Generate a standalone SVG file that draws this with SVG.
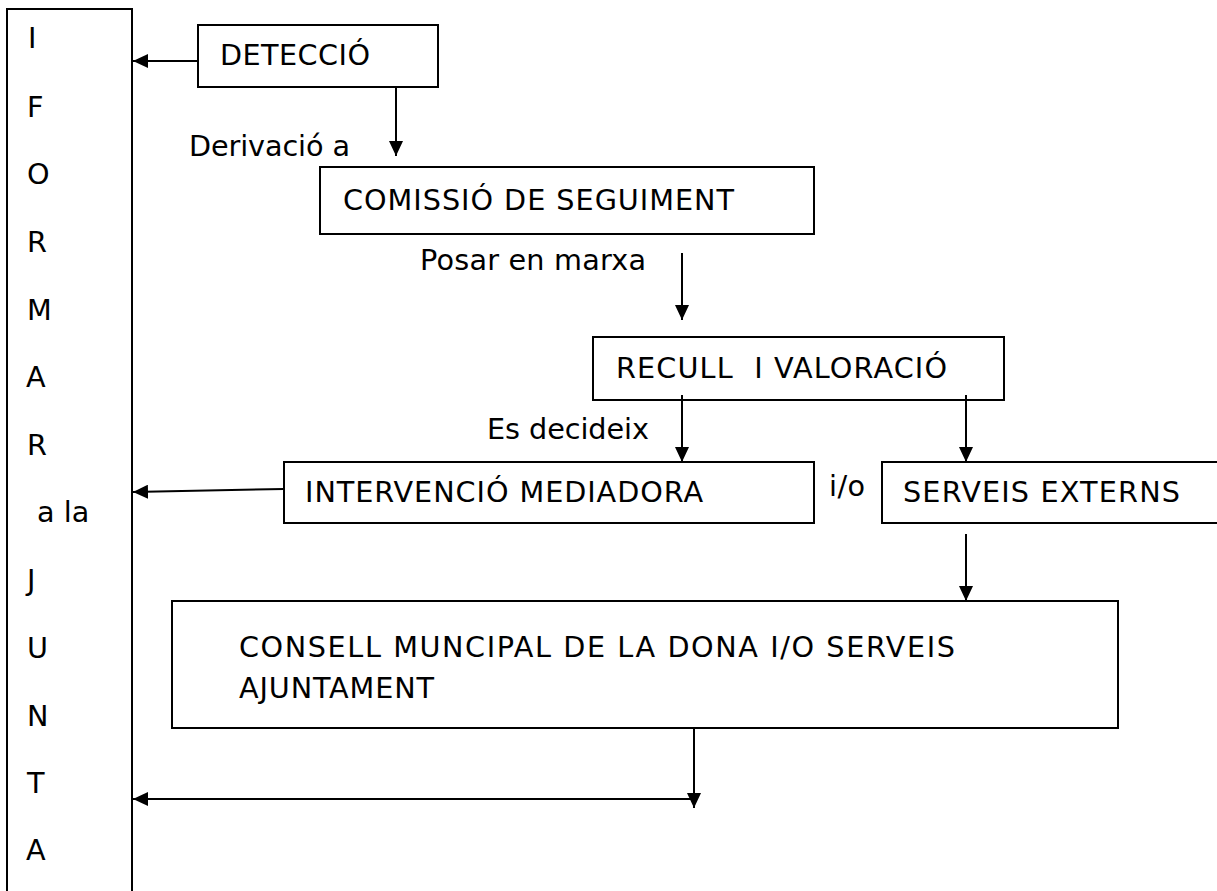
<svg xmlns="http://www.w3.org/2000/svg" width="1217" height="891" viewBox="0 0 1217 891">
<style>
text{font-family:"DejaVu Sans","Verdana","Liberation Sans",sans-serif;font-size:28.7px;fill:#000;white-space:pre}
.box{fill:none;stroke:#000;stroke-width:2}
.con{fill:none;stroke:#000;stroke-width:2;marker-end:url(#ah)}
</style>
<defs>
<marker id="ah" markerUnits="userSpaceOnUse" markerWidth="15" markerHeight="14" refX="15" refY="7" orient="auto" viewBox="0 0 15 14">
<path d="M0,0 L15,7 L0,14 z" fill="#000"/>
</marker>
</defs>
<rect width="1217" height="891" fill="#fff"/>
<g id="informar">
<rect class="box" x="7" y="9" width="125" height="900"/>
<text x="28" y="48">I</text>
<text x="27" y="117">F</text>
<text x="27" y="184">O</text>
<text x="27" y="252">R</text>
<text x="27" y="320">M</text>
<text x="26" y="387">A</text>
<text x="27" y="455">R</text>
<text x="37" y="522">a la</text>
<text x="27" y="590">J</text>
<text x="27" y="658">U</text>
<text x="27" y="726">N</text>
<text x="27" y="793">T</text>
<text x="26" y="860">A</text>
</g>
<g id="deteccio">
<rect class="box" x="198" y="25" width="240" height="62"/>
<text x="220" y="65" textLength="150" lengthAdjust="spacing">DETECCIÓ</text>
</g>
<g id="comissio">
<rect class="box" x="320" y="167" width="494" height="67"/>
<text x="343" y="210" textLength="391" lengthAdjust="spacing">COMISSIÓ DE SEGUIMENT</text>
</g>
<g id="recull">
<rect class="box" x="593" y="337" width="411" height="63"/>
<text x="616" y="378" textLength="331" lengthAdjust="spacing">RECULL  I VALORACIÓ</text>
</g>
<g id="intervencio">
<rect class="box" x="284" y="462" width="530" height="61"/>
<text x="305" y="502" textLength="398" lengthAdjust="spacing">INTERVENCIÓ MEDIADORA</text>
</g>
<g id="serveis">
<rect class="box" x="882" y="462" width="360" height="61"/>
<text x="903" y="502" textLength="277" lengthAdjust="spacing">SERVEIS EXTERNS</text>
</g>
<g id="consell">
<rect class="box" x="172" y="601" width="946" height="127"/>
<text x="239" y="657" textLength="716" lengthAdjust="spacing">CONSELL MUNCIPAL DE LA DONA I/O SERVEIS</text>
<text x="239" y="698" textLength="195" lengthAdjust="spacing">AJUNTAMENT</text>
</g>
<g id="labels">
<text x="189" y="156" textLength="161" lengthAdjust="spacing">Derivació a</text>
<text x="420" y="270" textLength="226" lengthAdjust="spacing">Posar en marxa</text>
<text x="487" y="439" textLength="162" lengthAdjust="spacing">Es decideix</text>
<text x="829" y="496" textLength="36" lengthAdjust="spacing">i/o</text>
</g>
<g id="connectors">
<path class="con" d="M198,61 H133"/>
<path class="con" d="M396,88 V156"/>
<path class="con" d="M682,253 V320"/>
<path class="con" d="M682,395 V462"/>
<path class="con" d="M966,395 V462"/>
<path class="con" d="M284,489 L133,492"/>
<path class="con" d="M966,534 V601"/>
<path class="con" d="M694,728 V808"/>
<path class="con" d="M694,799 H133"/>
</g>
</svg>
